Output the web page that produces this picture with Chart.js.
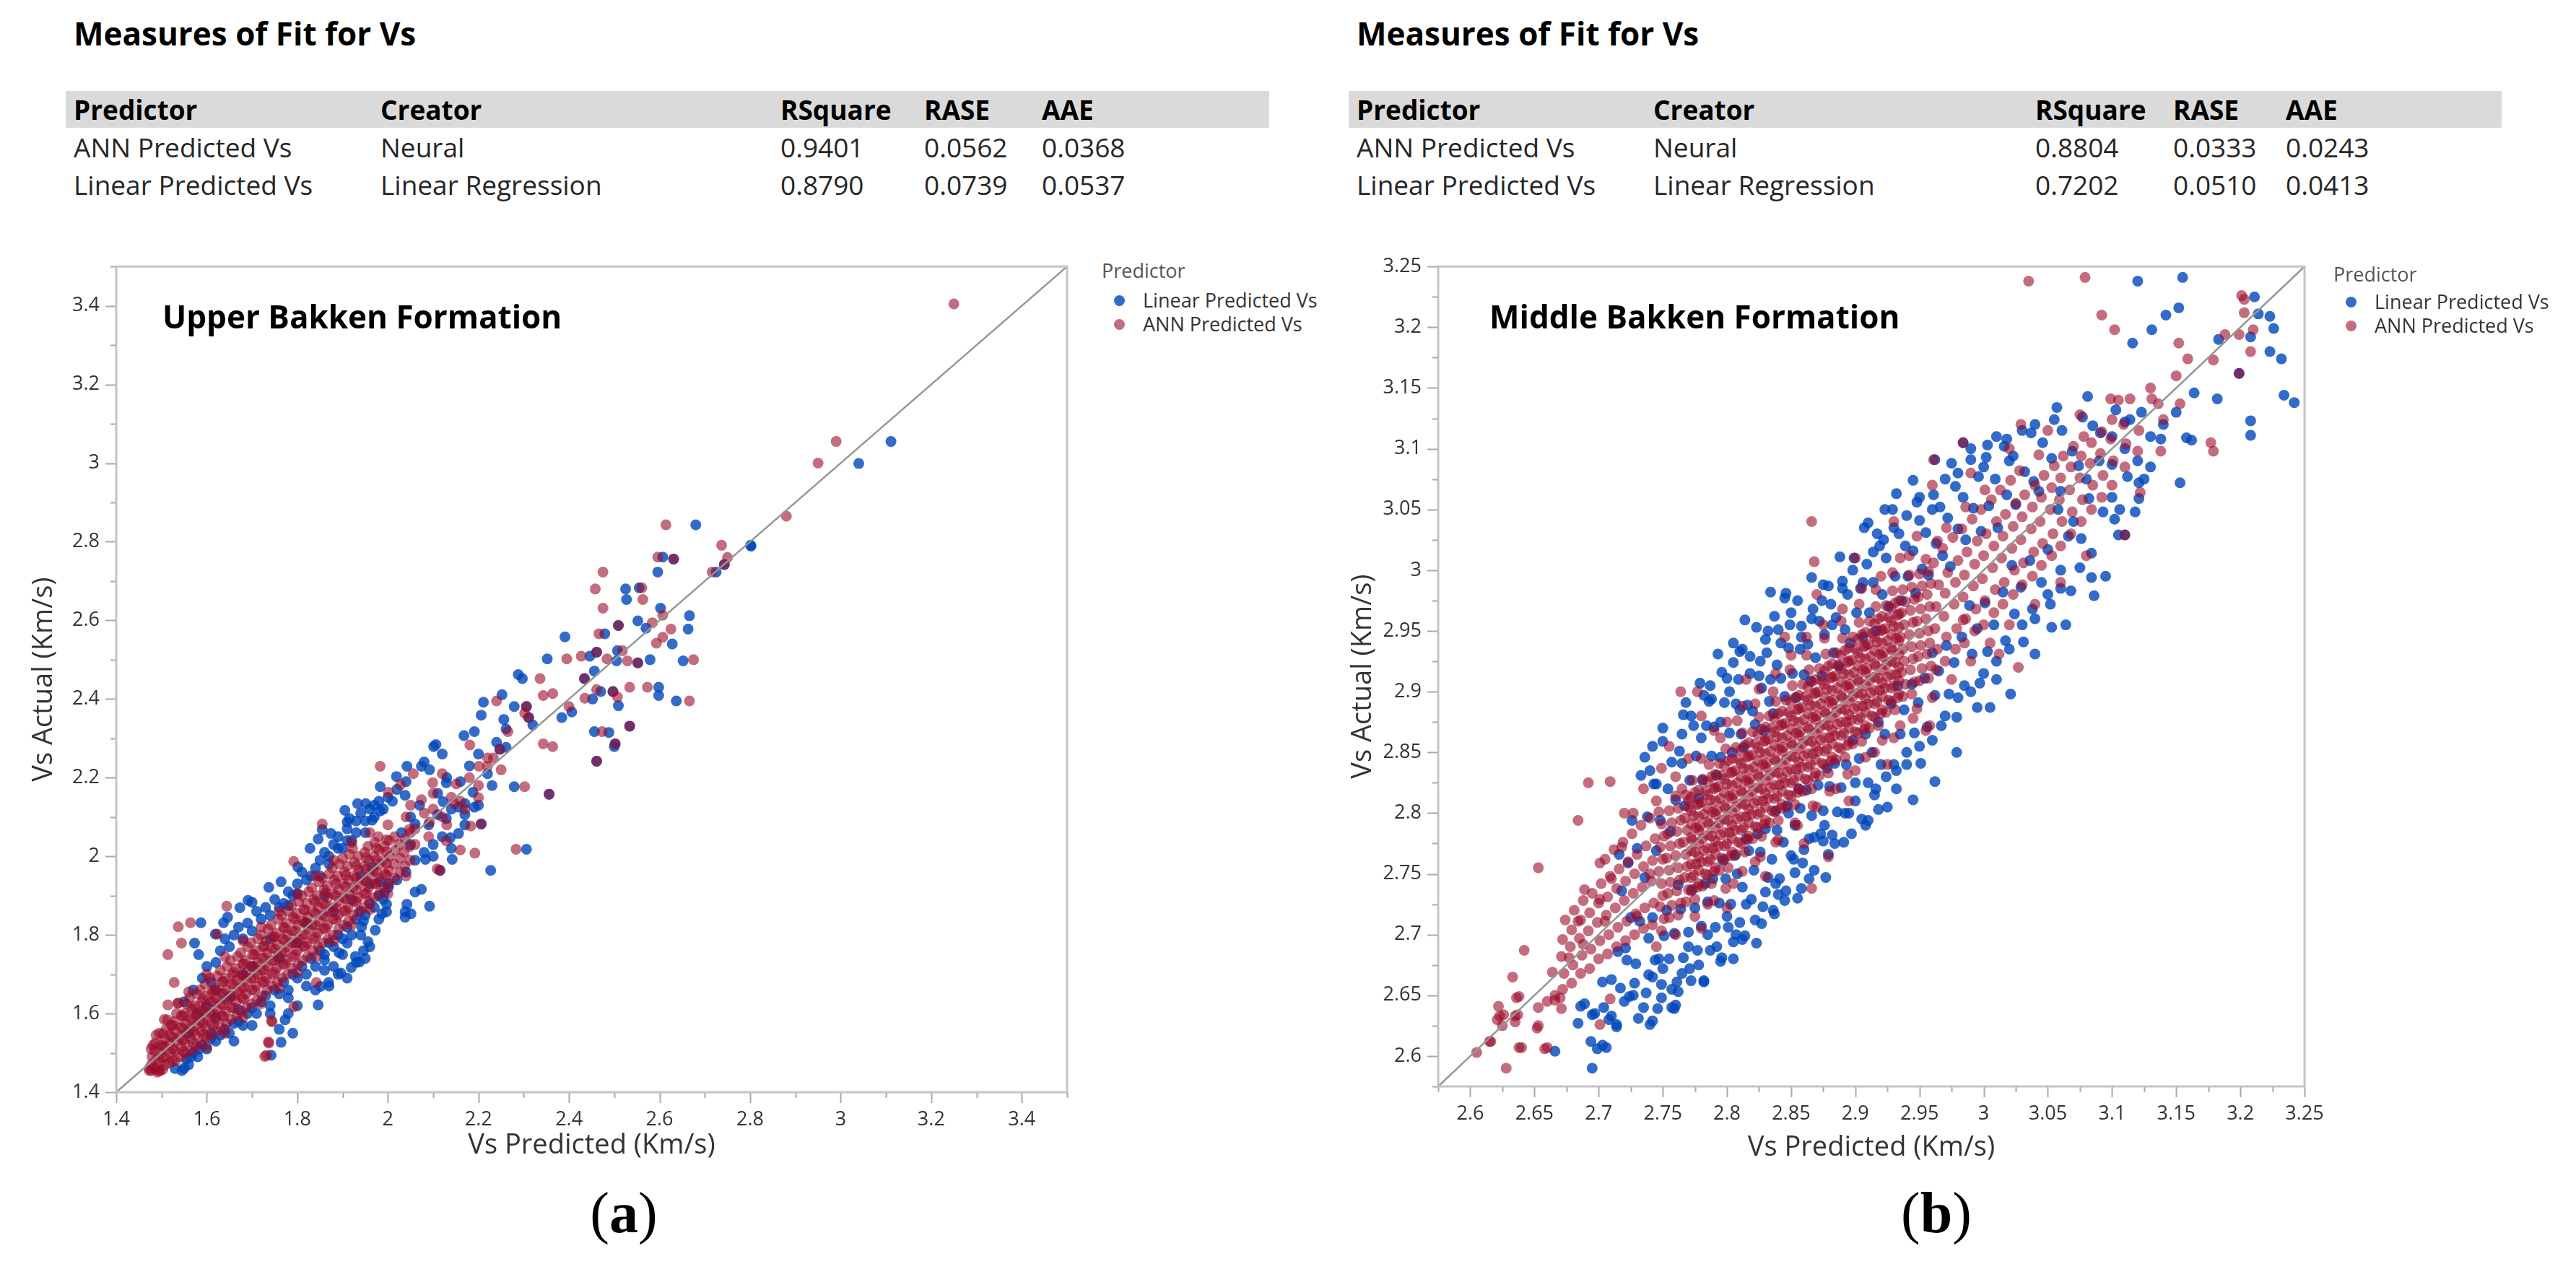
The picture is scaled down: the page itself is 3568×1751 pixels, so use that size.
<!DOCTYPE html>
<html>
<head>
<meta charset="utf-8">
<title>Measures of Fit for Vs</title>
<script src="https://cdn.jsdelivr.net/npm/chart.js@4.4.1/dist/chart.umd.min.js"></script>
<style>
  html, body { margin: 0; padding: 0; background: #fff; }
  body { width: 3568px; height: 1751px; position: relative; overflow: hidden; font-family: "Open Sans", sans-serif; color: #262626; }
  .abs { position: absolute; white-space: nowrap; line-height: 1; }
  .fitTitle { font-size: 44px; font-weight: 700; color: #000; }
  .bar { position: absolute; background: #dadada; top: 126px; height: 51px; }
  .hd { font-size: 37px; font-weight: 700; color: #000; }
  .cell { font-size: 37px; color: #262626; }
  .note { font-size: 44px; font-weight: 700; color: #000; }
  .legTitle { font-size: 27px; color: #555; }
  .legItem { font-size: 27px; color: #333; }
  .dot { position: absolute; width: 15px; height: 15px; border-radius: 50%; }
  .tag { font-family: "Liberation Serif", "DejaVu Serif", serif; font-size: 80px; width: 240px; text-align: center; color: #000; }
  canvas { position: absolute; }
</style>
</head>
<body>
<script>
// ---- values ----
const tableHeader = ['Predictor', 'Creator', 'RSquare', 'RASE', 'AAE'];
const upperFit = [
  ['ANN Predicted Vs', 'Neural', '0.9401', '0.0562', '0.0368'],
  ['Linear Predicted Vs', 'Linear Regression', '0.8790', '0.0739', '0.0537']
];
const middleFit = [
  ['ANN Predicted Vs', 'Neural', '0.8804', '0.0333', '0.0243'],
  ['Linear Predicted Vs', 'Linear Regression', '0.7202', '0.0510', '0.0413']
];
const seriesNames = ['Linear Predicted Vs', 'ANN Predicted Vs'];
const upperMajorTicks = [1.4, 1.6, 1.8, 2, 2.2, 2.4, 2.6, 2.8, 3, 3.2, 3.4];
const middleMajorTicks = [2.6, 2.65, 2.7, 2.75, 2.8, 2.85, 2.9, 2.95, 3, 3.05, 3.1, 3.15, 3.2, 3.25];

// Upper Bakken, Linear predicted vs actual  [x, y, x, y, ...]
const upperLinear = [
  3.111,3.055, 3.04,2.999, 2.802,2.789, 2.68,2.843, 2.725,2.723, 2.743,2.742, 2.801,2.791, 2.607,2.761, 2.631,2.756, 2.596,2.723,
  2.525,2.68, 2.555,2.683, 2.527,2.653, 2.602,2.631, 2.666,2.612, 2.663,2.578, 2.552,2.599, 2.57,2.58, 2.628,2.54, 2.509,2.587,
  2.479,2.566, 2.391,2.558, 2.352,2.502, 2.446,2.509, 2.461,2.519, 2.505,2.497, 2.552,2.492, 2.579,2.5, 2.652,2.497, 2.507,2.523,
  2.637,2.395, 2.598,2.43, 2.598,2.409, 2.497,2.419, 2.47,2.419, 2.452,2.4, 2.509,2.383, 2.434,2.452, 2.456,2.471, 2.456,2.317,
  2.488,2.315, 2.502,2.286, 2.5,2.279, 2.534,2.331, 2.461,2.242, 2.384,2.353, 2.406,2.367, 2.32,2.334, 2.311,2.353, 2.279,2.381,
  2.297,2.452, 2.288,2.462, 2.306,2.381, 2.256,2.348, 2.261,2.324, 2.252,2.411, 2.211,2.392, 2.191,2.317, 2.168,2.307, 2.206,2.359,
  2.261,2.277, 2.247,2.272, 2.279,2.177, 2.356,2.158, 2.306,2.018, 2.227,1.964, 2.206,2.082, 2.142,1.992, 2.188,2.163, 2.17,2.134,
  2.156,2.125, 2.122,2.139, 2.101,2.279, 2.106,2.284, 2.129,2.187, 2.074,2.229, 2.092,2.22, 2.042,2.229, 2.019,2.203, 1.983,2.177,
  2.038,2.155, 2.11,2.106, 2.129,2.096, 2.06,2.082, 2.191,2.125, 2.17,2.106, 2.156,2.058, 2.138,2.047, 2.115,1.964, 2.083,1.992,
  2.074,1.916, 2.06,1.909, 2.042,1.878, 2.038,1.859, 2.051,1.854, 2.092,1.873, 2.038,1.845, 1.997,1.878, 1.997,1.859, 1.987,1.854,
  1.946,1.835, 1.942,1.821, 1.972,1.812, 1.828,2.02, 1.846,2.044, 1.905,2.117, 1.915,2.096, 1.933,2.134, 1.951,2.134, 1.983,2.115,
  1.965,2.092, 1.91,2.087, 1.874,2.058, 1.855,2.068, 1.737,1.921, 1.764,1.935, 1.801,1.973, 1.691,1.888, 1.7,1.883, 1.673,1.869,
  1.637,1.831, 1.646,1.845, 1.619,1.802, 1.587,1.831, 1.582,1.75, 1.573,1.779, 1.55,1.461, 1.555,1.484, 1.582,1.508, 1.609,1.537,
  1.764,1.527, 1.742,1.494, 1.773,1.584, 1.846,1.622, 1.851,1.669, 1.869,1.679, 1.896,1.703, 1.919,1.717, 1.937,1.731, 1.928,1.745,
  1.946,1.76, 1.956,1.783, 1.91,1.779, 1.892,1.755, 1.86,1.736, 1.992,1.907, 2.001,1.921, 1.983,1.935, 1.96,1.93, 1.965,1.973,
  1.53,1.46, 1.545,1.455, 1.56,1.47, 1.565,1.49, 1.57,1.5, 1.58,1.49, 1.59,1.52, 1.6,1.51, 1.61,1.55, 1.62,1.53,
  1.63,1.545, 1.64,1.56, 1.65,1.55, 1.66,1.575, 1.67,1.58, 1.68,1.57, 1.69,1.6, 1.7,1.615, 1.71,1.6, 1.72,1.63,
  1.73,1.645, 1.74,1.62, 1.75,1.66, 1.76,1.65, 1.77,1.68, 1.78,1.66, 1.79,1.7, 1.8,1.69, 1.81,1.72, 1.82,1.7,
  1.83,1.74, 1.84,1.72, 1.85,1.76, 1.86,1.75, 1.87,1.78, 1.88,1.77, 1.89,1.8, 1.9,1.79, 1.91,1.82, 1.92,1.8,
  1.93,1.84, 1.94,1.86, 1.95,1.85, 1.96,1.88, 1.97,1.87, 1.98,1.9, 1.99,1.89, 2,1.93, 2.02,1.94, 2.04,1.96,
  2.06,1.99, 2.08,2.01, 2.1,2.03, 2.12,2.05, 1.66,1.53, 1.7,1.57, 1.74,1.6, 1.78,1.64, 1.82,1.67, 1.86,1.71,
  1.9,1.75, 1.94,1.8, 1.98,1.84, 1.87,1.67, 1.89,1.7, 1.91,1.69, 1.93,1.73, 1.95,1.74, 1.96,1.77, 1.88,1.72,
  1.84,1.66, 1.8,1.62, 1.78,1.6, 1.76,1.56, 1.79,1.55, 1.55,1.63, 1.57,1.66, 1.59,1.69, 1.6,1.72, 1.62,1.73,
  1.63,1.76, 1.65,1.77, 1.66,1.8, 1.68,1.79, 1.69,1.83, 1.7,1.81, 1.72,1.84, 1.73,1.87, 1.74,1.85, 1.75,1.89,
  1.77,1.88, 1.78,1.91, 1.79,1.9, 1.8,1.93, 1.81,1.96, 1.82,1.94, 1.84,1.97, 1.85,1.99, 1.86,2.01, 1.87,1.98,
  1.88,2.03, 1.89,2.05, 1.9,2.02, 1.91,2.07, 1.92,2.04, 1.93,2.09, 1.94,2.11, 1.95,2.06, 1.96,2.12, 1.97,2.1,
  1.98,2.14, 2,2.15, 2.02,2.17, 2.04,2.19, 1.6,1.62, 1.65,1.64, 1.7,1.72, 1.76,1.74, 1.82,1.83, 1.88,1.86,
  1.94,1.95, 1.68,1.7, 1.74,1.79, 1.8,1.78, 1.86,1.9, 1.92,1.89, 1.56,1.55, 1.62,1.66, 2.05,2.1, 2.07,2.13,
  2.09,2.08, 2.11,2.16, 2.13,2.2, 2.14,2.12, 2.16,2.19, 2.18,2.23, 2.2,2.26, 2.22,2.21, 2.24,2.29, 2.08,2.24,
  2.12,2.26, 2.03,2.06, 2.05,2.03, 2.1,2, 2.14,2.02, 2.17,2.08, 2.2,2.13, 2.23,2.18,
  1.76,1.87, 1.78,1.875, 1.8,1.905, 1.83,1.95, 1.85,1.95, 1.87,2.0, 1.89,2.02, 1.91,2.04, 1.93,2.06, 1.95,2.09,
  1.97,2.13, 1.99,2.12, 2.01,2.14, 1.64,1.79, 1.67,1.82, 1.71,1.86, 1.61,1.68, 1.58,1.6, 1.62,1.59, 1.67,1.61
];

// Upper Bakken, ANN predicted vs actual
const upperAnn = [
  3.25,3.405, 2.95,3, 2.99,3.055, 2.88,2.865, 2.737,2.791, 2.614,2.843, 2.716,2.723, 2.743,2.742, 2.75,2.76, 2.596,2.761,
  2.631,2.756, 2.475,2.723, 2.458,2.68, 2.475,2.631, 2.561,2.683, 2.563,2.653, 2.607,2.613, 2.584,2.594, 2.625,2.578, 2.593,2.542,
  2.607,2.557, 2.509,2.587, 2.466,2.566, 2.395,2.502, 2.427,2.509, 2.461,2.519, 2.484,2.502, 2.529,2.497, 2.552,2.492, 2.675,2.5,
  2.518,2.523, 2.666,2.395, 2.573,2.43, 2.534,2.43, 2.497,2.419, 2.461,2.424, 2.435,2.402, 2.507,2.405, 2.434,2.452, 2.473,2.317,
  2.502,2.286, 2.534,2.331, 2.461,2.242, 2.336,2.452, 2.343,2.409, 2.364,2.414, 2.4,2.381, 2.364,2.279, 2.343,2.286, 2.311,2.353,
  2.302,2.364, 2.306,2.381, 2.265,2.317, 2.24,2.395, 2.181,2.283, 2.247,2.272, 2.233,2.25, 2.22,2.229, 2.201,2.229, 2.302,2.177,
  2.356,2.158, 2.283,2.018, 2.192,2.008, 2.206,2.082, 2.183,2.077, 2.16,2.016, 2.2,2.149, 2.147,2.134, 2.12,2.21, 2.151,2.184,
  2.099,2.187, 2.056,2.21, 2.028,2.182, 1.983,2.229, 2.001,2.163, 2.074,2.144, 2.092,2.087, 2.047,2.068, 2.129,2.039, 2.109,1.968,
  2.115,1.964, 1.537,1.821, 1.564,1.831, 1.544,1.779, 1.514,1.75, 1.528,1.679, 1.514,1.622, 1.537,1.627, 1.623,1.802, 1.644,1.873,
  1.792,1.987, 1.855,2.082, 1.473,1.461, 1.491,1.451, 1.737,1.525, 1.732,1.494, 1.744,1.579, 1.792,1.617, 1.842,1.679, 1.536,1.626,
  1.513,1.584, 1.481,1.519, 1.736,1.528, 1.728,1.491, 1.743,1.582, 1.473,1.455, 1.494,1.455,
  1.478,1.455, 1.478,1.47, 1.479,1.49, 1.477,1.51, 1.486,1.46, 1.487,1.48, 1.485,1.505, 1.486,1.525, 1.488,1.545,
  1.497,1.455, 1.496,1.475, 1.498,1.5, 1.497,1.52, 1.495,1.55, 1.508,1.47, 1.509,1.49, 1.507,1.515, 1.508,1.535, 1.51,1.56, 1.506,1.585,
  1.519,1.475, 1.52,1.5, 1.518,1.525, 1.519,1.545, 1.521,1.57, 1.531,1.48, 1.53,1.505, 1.532,1.53, 1.531,1.555, 1.529,1.58, 1.533,1.6,
  1.542,1.49, 1.543,1.515, 1.541,1.54, 1.542,1.565, 1.544,1.595, 1.553,1.5, 1.552,1.525, 1.554,1.55, 1.553,1.575, 1.551,1.6, 1.555,1.625,
  1.564,1.505, 1.565,1.535, 1.563,1.56, 1.564,1.585, 1.566,1.61, 1.562,1.64, 1.576,1.515, 1.575,1.545, 1.577,1.57, 1.576,1.595, 1.574,1.62, 1.578,1.65,
  1.587,1.525, 1.588,1.555, 1.586,1.58, 1.587,1.605, 1.589,1.63, 1.585,1.66, 1.598,1.54, 1.597,1.565, 1.599,1.59, 1.598,1.615, 1.6,1.645, 1.596,1.675,
  1.609,1.545, 1.61,1.575, 1.608,1.6, 1.609,1.63, 1.611,1.655, 1.607,1.69, 1.621,1.555, 1.62,1.585, 1.622,1.61, 1.621,1.64, 1.619,1.665, 1.623,1.695,
  1.632,1.565, 1.633,1.595, 1.631,1.625, 1.632,1.65, 1.634,1.68, 1.63,1.71, 1.643,1.575, 1.642,1.605, 1.644,1.635, 1.643,1.66, 1.641,1.69, 1.645,1.72,
  1.654,1.585, 1.655,1.615, 1.653,1.645, 1.654,1.675, 1.656,1.7, 1.652,1.735, 1.666,1.595, 1.665,1.63, 1.667,1.655, 1.666,1.685, 1.664,1.715, 1.668,1.745,
  1.677,1.605, 1.678,1.64, 1.676,1.665, 1.677,1.695, 1.679,1.725, 1.675,1.755, 1.688,1.615, 1.687,1.65, 1.689,1.68, 1.688,1.705, 1.686,1.735, 1.69,1.77,
  1.699,1.625, 1.7,1.66, 1.698,1.69, 1.699,1.72, 1.701,1.75, 1.697,1.78, 1.711,1.635, 1.71,1.67, 1.712,1.7, 1.711,1.73, 1.709,1.76, 1.713,1.79,
  1.722,1.645, 1.723,1.68, 1.721,1.71, 1.722,1.74, 1.724,1.77, 1.72,1.8, 1.733,1.66, 1.732,1.69, 1.734,1.72, 1.733,1.755, 1.731,1.785, 1.735,1.815,
  1.744,1.67, 1.745,1.7, 1.743,1.735, 1.744,1.765, 1.746,1.795, 1.742,1.825, 1.756,1.68, 1.755,1.715, 1.757,1.745, 1.756,1.775, 1.754,1.805, 1.758,1.84,
  1.767,1.69, 1.768,1.725, 1.766,1.755, 1.767,1.79, 1.769,1.82, 1.765,1.85, 1.778,1.7, 1.777,1.735, 1.779,1.77, 1.778,1.8, 1.776,1.83, 1.78,1.86,
  1.789,1.715, 1.79,1.745, 1.788,1.78, 1.789,1.81, 1.791,1.845, 1.787,1.875, 1.801,1.725, 1.8,1.76, 1.802,1.79, 1.801,1.825, 1.799,1.855, 1.803,1.885,
  1.812,1.735, 1.813,1.77, 1.811,1.8, 1.812,1.835, 1.814,1.865, 1.81,1.9, 1.823,1.745, 1.822,1.78, 1.824,1.815, 1.823,1.845, 1.821,1.88, 1.825,1.91,
  1.834,1.76, 1.835,1.79, 1.833,1.825, 1.834,1.86, 1.836,1.89, 1.832,1.92, 1.846,1.77, 1.845,1.805, 1.847,1.835, 1.846,1.87, 1.844,1.9, 1.848,1.935,
  1.857,1.78, 1.858,1.815, 1.856,1.85, 1.857,1.88, 1.859,1.915, 1.855,1.945, 1.868,1.79, 1.867,1.825, 1.869,1.86, 1.868,1.895, 1.866,1.925, 1.87,1.955,
  1.879,1.8, 1.88,1.84, 1.878,1.87, 1.879,1.905, 1.881,1.94, 1.877,1.97, 1.891,1.815, 1.89,1.85, 1.892,1.885, 1.891,1.915, 1.889,1.95, 1.893,1.98,
  1.902,1.825, 1.903,1.86, 1.901,1.895, 1.902,1.93, 1.904,1.96, 1.9,1.995, 1.913,1.835, 1.912,1.87, 1.914,1.905, 1.913,1.94, 1.911,1.975, 1.915,2.005,
  1.924,1.85, 1.925,1.885, 1.923,1.92, 1.924,1.95, 1.926,1.985, 1.922,2.02, 1.936,1.86, 1.935,1.895, 1.937,1.93, 1.936,1.965, 1.934,2,
  1.947,1.87, 1.948,1.905, 1.946,1.94, 1.947,1.975, 1.949,2.01, 1.958,1.885, 1.957,1.92, 1.959,1.955, 1.958,1.99, 1.956,2.025,
  1.969,1.895, 1.97,1.93, 1.968,1.965, 1.969,2, 1.971,2.035, 1.981,1.905, 1.98,1.945, 1.982,1.98, 1.981,2.015, 1.979,2.05,
  1.992,1.92, 1.993,1.955, 1.991,1.99, 1.992,2.025, 2.003,1.93, 2.002,1.965, 2.004,2, 2.003,2.04, 2.015,1.945, 2.014,1.98, 2.016,2.015, 2.015,2.05,
  2.026,1.96, 2.027,1.995, 2.025,2.03, 2.037,1.975, 2.036,2.01, 2.038,2.045, 2.049,1.99, 2.048,2.025, 2.05,2.06,
  1.56,1.655, 1.6,1.7, 1.64,1.745, 1.68,1.785, 1.72,1.82, 1.76,1.86, 1.8,1.905, 1.84,1.95, 1.88,1.99, 1.92,2.035,
  1.96,2.06, 2,2.08, 2.04,2.1, 1.6,1.515, 1.64,1.55, 1.68,1.59, 1.72,1.625, 1.76,1.665, 1.8,1.705, 1.84,1.745,
  1.88,1.785, 1.92,1.825, 1.96,1.865, 2,1.905, 2.04,1.95, 2.06,2.07, 2.08,2.11, 2.1,2.12, 2.12,2.1, 2.14,2.15,
  2.16,2.14, 2.18,2.2, 2.2,2.18, 2.22,2.25, 2.25,2.22, 2.06,2.03, 2.09,2.05, 2.13,2.08, 2.17,2.12, 2.05,2.13, 2.1,2.16,
  1.503,1.458, 1.503,1.488, 1.503,1.518, 1.503,1.548, 1.525,1.48, 1.525,1.51, 1.525,1.54, 1.525,1.57,
  1.548,1.503, 1.548,1.533, 1.548,1.563, 1.548,1.593, 1.57,1.525, 1.57,1.555, 1.57,1.585, 1.57,1.615,
  1.592,1.547, 1.592,1.577, 1.592,1.607, 1.592,1.637, 1.615,1.57, 1.615,1.6, 1.615,1.63, 1.615,1.66,
  1.637,1.592, 1.637,1.622, 1.637,1.652, 1.637,1.682, 1.66,1.615, 1.66,1.645, 1.66,1.675, 1.66,1.705,
  1.682,1.637, 1.682,1.667, 1.682,1.697, 1.682,1.727, 1.705,1.66, 1.705,1.69, 1.705,1.72, 1.705,1.75,
  1.727,1.682, 1.727,1.712, 1.727,1.742, 1.727,1.772, 1.75,1.705, 1.75,1.735, 1.75,1.765, 1.75,1.795,
  1.772,1.727, 1.772,1.757, 1.772,1.787, 1.772,1.817, 1.795,1.75, 1.795,1.78, 1.795,1.81, 1.795,1.84,
  1.817,1.772, 1.817,1.802, 1.817,1.832, 1.817,1.862, 1.84,1.795, 1.84,1.825, 1.84,1.855, 1.84,1.885,
  1.862,1.817, 1.862,1.847, 1.862,1.877, 1.862,1.907, 1.885,1.84, 1.885,1.87, 1.885,1.9, 1.885,1.93,
  1.907,1.862, 1.907,1.892, 1.907,1.922, 1.907,1.952, 1.93,1.885, 1.93,1.915, 1.93,1.945, 1.93,1.975,
  1.952,1.907, 1.952,1.937, 1.952,1.967, 1.952,1.997, 1.975,1.93, 1.975,1.96, 1.975,1.99, 1.975,2.02,
  1.997,1.952, 1.997,1.982, 1.997,2.012, 1.997,2.042
];

// Middle Bakken, Linear predicted vs actual
const middleLinear = [
  3.12,3.238, 3.155,3.241, 3.211,3.225, 3.214,3.211, 3.223,3.209, 3.226,3.199, 3.142,3.21, 3.152,3.216, 3.131,3.198, 3.116,3.187,
  3.183,3.19, 3.208,3.192, 3.223,3.18, 3.232,3.174, 3.199,3.162, 3.234,3.144, 3.242,3.138, 3.208,3.123, 3.208,3.111, 3.182,3.141,
  3.164,3.146, 3.158,3.109, 3.162,3.107, 3.153,3.072, 3.121,3.072, 3.121,3.059, 3.118,3.048, 3.106,3.05, 3.114,3.124, 3.081,3.143,
  3.057,3.134, 3.055,3.124, 3.04,3.12,
  2.666,2.604, 2.695,2.59, 2.703,2.609, 2.684,2.627, 2.697,2.635, 2.71,2.633, 2.714,2.624, 2.689,2.643, 2.703,2.661, 2.71,2.663,
  2.727,2.65, 2.742,2.629, 2.749,2.648, 2.76,2.642, 2.762,2.653, 2.739,2.667, 2.747,2.68, 2.721,2.689, 2.771,2.672, 2.782,2.661,
  2.795,2.678, 2.805,2.694, 2.812,2.696, 2.827,2.709, 2.836,2.72, 2.84,2.733, 2.853,2.751, 2.858,2.738, 2.864,2.746, 2.879,2.766,
  2.875,2.777, 2.897,2.783, 2.91,2.794, 2.918,2.803, 2.932,2.82, 2.945,2.811, 2.962,2.826, 2.979,2.85, 2.995,2.887, 3.005,2.887,
  3.021,2.898, 3.04,2.931, 3.053,2.953, 3.064,2.955, 3.086,2.979, 3.105,3.029, 3.11,3.029, 3.084,2.994, 3.075,3.002,
  2.686,2.641, 2.695,2.634, 2.704,2.64, 2.708,2.63, 2.74,2.626, 2.759,2.639, 2.694,2.612, 2.699,2.606, 2.706,2.607,
  2.845,2.977, 2.832,2.95, 2.81,2.933, 2.805,2.924, 2.788,2.894, 2.766,2.881, 2.742,2.855, 2.736,2.846, 2.745,2.824, 3.018,3.108,
  3.003,3.103, 2.984,3.105, 2.962,3.091, 2.945,3.074, 2.932,3.063, 2.923,3.05, 2.91,3.039,
  2.714,2.626, 2.717,2.656, 2.715,2.686, 2.718,2.736, 2.716,2.766, 2.724,2.649, 2.722,2.679, 2.725,2.714, 2.723,2.759, 2.726,2.794,
  2.731,2.631, 2.729,2.676, 2.732,2.711, 2.73,2.771, 2.733,2.831, 2.737,2.652, 2.739,2.697, 2.736,2.747, 2.738,2.797,
  2.744,2.679, 2.742,2.714, 2.745,2.769, 2.743,2.824, 2.746,2.639, 2.749,2.659, 2.751,2.699, 2.748,2.794, 2.75,2.859,
  2.755,2.68, 2.753,2.72, 2.756,2.785, 2.754,2.82, 2.757,2.64, 2.761,2.661, 2.759,2.701, 2.762,2.741, 2.76,2.811, 2.763,2.851,
  2.766,2.681, 2.764,2.721, 2.767,2.806, 2.765,2.841, 2.768,2.891, 2.772,2.662, 2.77,2.702, 2.773,2.737, 2.771,2.827, 2.774,2.872,
  2.777,2.687, 2.775,2.722, 2.778,2.812, 2.776,2.847, 2.779,2.907, 2.782,2.662, 2.78,2.707, 2.783,2.742, 2.781,2.827, 2.784,2.872, 2.782,2.897,
  2.787,2.687, 2.785,2.727, 2.788,2.847, 2.786,2.892, 2.791,2.706, 2.789,2.746, 2.792,2.831, 2.79,2.871, 2.793,2.931,
  2.796,2.681, 2.794,2.726, 2.797,2.761, 2.795,2.846, 2.798,2.891, 2.796,2.916, 2.801,2.706, 2.799,2.746, 2.802,2.866, 2.8,2.911,
  2.805,2.68, 2.803,2.725, 2.806,2.765, 2.804,2.85, 2.807,2.89, 2.805,2.94, 2.81,2.71, 2.808,2.75, 2.811,2.865, 2.809,2.91, 2.812,2.935,
  2.814,2.699, 2.812,2.739, 2.815,2.779, 2.813,2.854, 2.816,2.889, 2.814,2.959, 2.819,2.729, 2.817,2.769, 2.82,2.884, 2.818,2.929,
  2.823,2.693, 2.821,2.753, 2.824,2.783, 2.822,2.873, 2.825,2.913, 2.823,2.953, 2.828,2.723, 2.826,2.768, 2.829,2.868, 2.827,2.903, 2.83,2.943,
  2.832,2.747, 2.83,2.787, 2.833,2.892, 2.831,2.932, 2.834,2.982, 2.837,2.717, 2.835,2.762, 2.838,2.802, 2.836,2.882, 2.839,2.922, 2.837,2.962,
  2.841,2.746, 2.839,2.786, 2.842,2.911, 2.84,2.951, 2.846,2.736, 2.844,2.776, 2.847,2.806, 2.845,2.896, 2.848,2.936, 2.846,2.981,
  2.85,2.765, 2.848,2.8, 2.851,2.915, 2.849,2.955, 2.855,2.73, 2.853,2.79, 2.856,2.82, 2.854,2.895, 2.857,2.935, 2.855,2.975,
  2.859,2.759, 2.857,2.804, 2.86,2.914, 2.858,2.954, 2.864,2.779, 2.862,2.819, 2.865,2.909, 2.863,2.939, 2.866,2.994,
  2.868,2.753, 2.866,2.798, 2.869,2.928, 2.867,2.968, 2.873,2.783, 2.871,2.823, 2.874,2.913, 2.872,2.958, 2.875,2.988,
  2.877,2.747, 2.875,2.802, 2.878,2.837, 2.876,2.947, 2.879,2.987, 2.882,2.782, 2.88,2.822, 2.883,2.932, 2.881,2.972,
  2.886,2.801, 2.884,2.841, 2.887,2.921, 2.885,2.961, 2.888,3.011, 2.891,2.776, 2.889,2.821, 2.892,2.951, 2.89,2.991,
  2.895,2.8, 2.893,2.84, 2.896,2.94, 2.894,2.98, 2.9,2.825, 2.898,2.86, 2.901,2.965, 2.899,3.01,
  2.905,2.795, 2.903,2.845, 2.906,2.945, 2.904,2.985, 2.907,3.035, 2.91,2.825, 2.908,2.865, 2.911,2.965, 2.909,3.005,
  2.915,2.815, 2.913,2.85, 2.916,2.95, 2.914,2.99, 2.917,3.03, 2.92,2.84, 2.918,2.875, 2.921,2.98, 2.919,3.02,
  2.925,2.805, 2.923,2.865, 2.926,2.97, 2.924,3.01, 2.93,2.84, 2.928,2.89, 2.931,2.995, 2.929,3.05,
  2.935,2.865, 2.933,2.905, 2.936,2.975, 2.934,3.03, 2.94,2.84, 2.938,2.885, 2.941,2.995, 2.939,3.02,
  2.946,2.866, 2.944,2.906, 2.947,2.981, 2.945,3.016, 2.948,3.056, 2.951,2.841, 2.949,2.891, 2.952,3.001, 2.95,3.041,
  2.956,2.871, 2.954,2.911, 2.957,2.996, 2.955,3.031, 2.962,2.897, 2.96,2.932, 2.963,3.022, 2.961,3.062,
  2.967,2.872, 2.965,2.917, 2.968,3.012, 2.966,3.052, 2.973,2.898, 2.971,2.938, 2.974,3.003, 2.972,3.043, 2.975,3.088,
  2.979,2.879, 2.977,2.924, 2.98,3.034, 2.978,3.069, 2.985,2.905, 2.983,2.945, 2.986,3.025, 2.984,3.06,
  2.991,2.931, 2.989,2.971, 2.992,3.051, 2.99,3.091, 2.997,2.907, 2.995,2.952, 2.998,3.032, 2.996,3.077,
  3.003,2.933, 3.001,2.973, 3.004,3.053, 3.002,3.093, 3.01,2.91, 3.008,2.955, 3.011,3.035, 3.009,3.075,
  3.017,2.942, 3.015,2.982, 3.018,3.062, 3.016,3.102, 3.024,2.964, 3.022,3.004, 3.025,3.054, 3.023,3.094,
  3.031,2.941, 3.029,2.986, 3.032,3.081, 3.038,2.968, 3.036,3.008, 3.039,3.073, 3.037,3.113,
  3.045,2.99, 3.043,3.065, 3.046,3.105, 3.052,2.972, 3.05,3.017, 3.053,3.092, 3.06,3, 3.058,3.05, 3.061,3.115,
  3.068,2.983, 3.066,3.028, 3.069,3.098, 3.076,3.026, 3.074,3.086, 3.077,3.126, 3.084,3.014, 3.082,3.059, 3.085,3.119,
  3.093,3.048, 3.091,3.113, 3.102,3.042, 3.1,3.087, 3.103,3.132, 3.112,3.077, 3.11,3.122, 3.125,3.075, 3.123,3.13,
  3.138,3.108, 3.095,2.995,
  2.72,2.645, 2.728,2.66, 2.735,2.64, 2.742,2.665, 2.75,2.672, 2.757,2.655, 2.765,2.668, 2.77,2.69, 2.778,2.675, 2.785,2.7,
  2.792,2.69, 2.8,2.715, 2.807,2.7, 2.815,2.725, 2.822,2.712, 2.83,2.735, 2.838,2.742, 2.845,2.728, 2.852,2.762, 2.86,2.77,
  2.868,2.78, 2.876,2.79, 2.884,2.775, 2.892,2.8, 2.9,2.81, 2.908,2.79, 2.916,2.82, 2.924,2.83, 2.932,2.835, 2.94,2.85,
  2.95,2.855, 2.96,2.86, 2.97,2.88, 2.98,2.895, 2.99,2.9, 3,2.915, 3.01,2.925, 3.02,2.935, 3.03,2.955, 3.04,2.96,
  3.05,2.98, 3.06,2.985, 2.74,2.835, 2.75,2.87, 2.757,2.842, 2.765,2.865, 2.772,2.88, 2.78,2.862, 2.787,2.905, 2.795,2.875,
  2.802,2.9, 2.81,2.885, 2.818,2.915, 2.826,2.925, 2.834,2.91, 2.842,2.94, 2.85,2.965, 2.858,2.945, 2.866,2.96, 2.874,2.975,
  2.882,2.955, 2.89,2.985, 2.898,3, 2.906,2.99, 2.914,3.015, 2.922,3.025, 2.93,3.035, 2.94,3.045, 2.95,3.06, 2.96,3.05,
  2.97,3.075, 2.98,3.08, 2.99,3.1, 3,3.085, 3.01,3.11, 3.02,3.09, 3.03,3.115, 3.06,3.065, 3.07,3.04, 3.08,3.075,
  3.09,3.09, 3.1,3.06, 3.11,3.1, 3.12,3.09, 3.13,3.11, 3.14,3.12, 3.15,3.13, 3.1,3.11, 3.13,3.085
];

// Middle Bakken, ANN predicted vs actual
const middleAnn = [
  2.605,2.603, 2.628,2.59, 2.616,2.612, 2.623,2.633, 2.638,2.649, 2.653,2.625, 2.66,2.607, 2.64,2.607, 2.633,2.665, 2.642,2.687,
  2.664,2.669, 2.666,2.65, 2.677,2.681, 2.688,2.692, 2.684,2.711, 2.689,2.737, 2.701,2.729, 2.705,2.711, 2.701,2.759, 2.71,2.746,
  2.718,2.772, 2.653,2.755, 2.684,2.794, 2.692,2.825, 2.709,2.826, 2.727,2.8, 2.749,2.837, 2.764,2.9, 2.777,2.9, 2.866,3.04,
  2.868,3.007, 2.961,3.091, 2.984,3.105, 3.029,3.12, 3.035,3.238, 3.079,3.241, 3.201,3.226, 3.203,3.223, 3.203,3.212, 3.21,3.198,
  3.092,3.21, 3.102,3.198, 3.152,3.187, 3.159,3.174, 3.188,3.194, 3.199,3.194, 3.179,3.173, 3.199,3.162, 3.208,3.18, 3.153,3.137,
  3.136,3.137, 3.14,3.124, 3.131,3.141, 3.177,3.105, 3.179,3.098, 3.138,3.098, 3.122,3.064, 3.099,3.141, 3.114,3.141, 3.11,3.029,
  3.027,2.92, 2.958,2.872, 2.879,2.764, 2.866,2.738, 3.012,2.931, 2.984,2.959,
  2.615,2.612, 2.638,2.607, 2.658,2.606, 2.652,2.623, 2.622,2.641, 2.626,2.634, 2.621,2.63, 2.625,2.625, 2.635,2.633, 2.635,2.628,
  2.637,2.634, 2.653,2.64, 2.66,2.645, 2.666,2.646, 2.671,2.639, 2.67,2.648, 2.701,2.626, 2.709,2.647, 2.636,2.648,
  2.672,2.655, 2.673,2.668, 2.671,2.682, 2.672,2.696, 2.674,2.712, 2.679,2.66, 2.68,2.675, 2.678,2.69, 2.679,2.704, 2.681,2.72,
  2.686,2.668, 2.687,2.683, 2.685,2.697, 2.686,2.712, 2.688,2.728, 2.693,2.672, 2.694,2.688, 2.692,2.703, 2.693,2.718, 2.695,2.734,
  2.7,2.68, 2.701,2.695, 2.699,2.71, 2.7,2.726, 2.702,2.742, 2.707,2.684, 2.708,2.7, 2.706,2.716, 2.707,2.731, 2.709,2.748, 2.705,2.762,
  2.714,2.69, 2.715,2.706, 2.713,2.722, 2.714,2.738, 2.716,2.754, 2.712,2.77, 2.721,2.695, 2.722,2.711, 2.72,2.728, 2.721,2.744, 2.723,2.76, 2.719,2.776,
  2.728,2.7, 2.729,2.717, 2.727,2.734, 2.728,2.75, 2.73,2.766, 2.726,2.783, 2.735,2.705, 2.736,2.722, 2.734,2.739, 2.735,2.756, 2.737,2.773, 2.733,2.79,
  2.742,2.708, 2.743,2.726, 2.741,2.744, 2.742,2.761, 2.744,2.779, 2.74,2.796,
  2.749,2.703, 2.751,2.713, 2.748,2.723, 2.75,2.732, 2.749,2.742, 2.747,2.752, 2.75,2.762, 2.748,2.772, 2.751,2.781, 2.749,2.791, 2.747,2.801,
  2.755,2.714, 2.757,2.724, 2.754,2.734, 2.756,2.743, 2.755,2.753, 2.753,2.763, 2.756,2.773, 2.754,2.783, 2.757,2.792, 2.755,2.802,
  2.762,2.716, 2.764,2.726, 2.761,2.736, 2.763,2.745, 2.762,2.755, 2.76,2.765, 2.763,2.775, 2.761,2.785, 2.764,2.794, 2.762,2.804, 2.76,2.814,
  2.768,2.727, 2.77,2.737, 2.767,2.747, 2.769,2.756, 2.768,2.766, 2.766,2.776, 2.769,2.786, 2.767,2.796, 2.77,2.805, 2.768,2.815,
  2.775,2.729, 2.777,2.739, 2.774,2.749, 2.776,2.758, 2.775,2.768, 2.773,2.778, 2.776,2.788, 2.774,2.798, 2.777,2.807, 2.775,2.817, 2.773,2.827,
  2.781,2.74, 2.783,2.75, 2.78,2.76, 2.782,2.769, 2.781,2.779, 2.779,2.789, 2.782,2.799, 2.78,2.809, 2.783,2.818, 2.781,2.828,
  2.788,2.742, 2.79,2.752, 2.787,2.762, 2.789,2.771, 2.788,2.781, 2.786,2.791, 2.789,2.801, 2.787,2.811, 2.79,2.82, 2.788,2.83, 2.786,2.84,
  2.794,2.753, 2.796,2.763, 2.793,2.773, 2.795,2.782, 2.794,2.792, 2.792,2.802, 2.795,2.812, 2.793,2.822, 2.796,2.831, 2.794,2.841,
  2.801,2.755, 2.803,2.765, 2.8,2.775, 2.802,2.784, 2.801,2.794, 2.799,2.804, 2.802,2.814, 2.8,2.824, 2.803,2.833, 2.801,2.843, 2.799,2.853,
  2.807,2.766, 2.809,2.776, 2.806,2.786, 2.808,2.795, 2.807,2.805, 2.805,2.815, 2.808,2.825, 2.806,2.835, 2.809,2.844, 2.807,2.854,
  2.814,2.768, 2.816,2.778, 2.813,2.788, 2.815,2.797, 2.814,2.807, 2.812,2.817, 2.815,2.827, 2.813,2.837, 2.816,2.846, 2.814,2.856, 2.812,2.866,
  2.82,2.779, 2.822,2.789, 2.819,2.799, 2.821,2.808, 2.82,2.818, 2.818,2.828, 2.821,2.838, 2.819,2.848, 2.822,2.857, 2.82,2.867,
  2.827,2.781, 2.829,2.791, 2.826,2.801, 2.828,2.81, 2.827,2.82, 2.825,2.83, 2.828,2.84, 2.826,2.85, 2.829,2.859, 2.827,2.869, 2.825,2.879,
  2.833,2.792, 2.835,2.802, 2.832,2.812, 2.834,2.821, 2.833,2.831, 2.831,2.841, 2.834,2.851, 2.832,2.861, 2.835,2.87, 2.833,2.88,
  2.84,2.794, 2.842,2.804, 2.839,2.814, 2.841,2.823, 2.84,2.833, 2.838,2.843, 2.841,2.853, 2.839,2.863, 2.842,2.872, 2.84,2.882, 2.838,2.892,
  2.846,2.805, 2.848,2.815, 2.845,2.825, 2.847,2.834, 2.846,2.844, 2.844,2.854, 2.847,2.864, 2.845,2.874, 2.848,2.883, 2.846,2.893,
  2.853,2.807, 2.855,2.817, 2.852,2.827, 2.854,2.836, 2.853,2.846, 2.851,2.856, 2.854,2.866, 2.852,2.876, 2.855,2.885, 2.853,2.895, 2.851,2.905,
  2.859,2.818, 2.861,2.828, 2.858,2.838, 2.86,2.847, 2.859,2.857, 2.857,2.867, 2.86,2.877, 2.858,2.887, 2.861,2.896, 2.859,2.906,
  2.866,2.82, 2.868,2.83, 2.865,2.84, 2.867,2.849, 2.866,2.859, 2.864,2.869, 2.867,2.879, 2.865,2.889, 2.868,2.898, 2.866,2.908, 2.864,2.918,
  2.872,2.831, 2.874,2.841, 2.871,2.851, 2.873,2.86, 2.872,2.87, 2.87,2.88, 2.873,2.89, 2.871,2.9, 2.874,2.909, 2.872,2.919,
  2.879,2.833, 2.881,2.843, 2.878,2.853, 2.88,2.862, 2.879,2.872, 2.877,2.882, 2.88,2.892, 2.878,2.902, 2.881,2.911, 2.879,2.921, 2.877,2.931,
  2.885,2.844, 2.887,2.854, 2.884,2.864, 2.886,2.873, 2.885,2.883, 2.883,2.893, 2.886,2.903, 2.884,2.913, 2.887,2.922, 2.885,2.932,
  2.892,2.846, 2.894,2.856, 2.891,2.866, 2.893,2.875, 2.892,2.885, 2.89,2.895, 2.893,2.905, 2.891,2.915, 2.894,2.924, 2.892,2.934, 2.89,2.944,
  2.898,2.857, 2.9,2.867, 2.897,2.877, 2.899,2.886, 2.898,2.896, 2.896,2.906, 2.899,2.916, 2.897,2.926, 2.9,2.935, 2.898,2.945,
  2.905,2.859, 2.907,2.869, 2.904,2.879, 2.906,2.888, 2.905,2.898, 2.903,2.908, 2.906,2.918, 2.904,2.928, 2.907,2.937, 2.905,2.947, 2.903,2.957,
  2.911,2.87, 2.913,2.88, 2.91,2.89, 2.912,2.899, 2.911,2.909, 2.909,2.919, 2.912,2.929, 2.91,2.939, 2.913,2.948, 2.911,2.958,
  2.918,2.872, 2.92,2.882, 2.917,2.892, 2.919,2.901, 2.918,2.911, 2.916,2.921, 2.919,2.931, 2.917,2.941, 2.92,2.95, 2.918,2.96, 2.916,2.97,
  2.924,2.883, 2.926,2.893, 2.923,2.903, 2.925,2.912, 2.924,2.922, 2.922,2.932, 2.925,2.942, 2.923,2.952, 2.926,2.961, 2.924,2.971,
  2.931,2.885, 2.933,2.895, 2.93,2.905, 2.932,2.914, 2.931,2.924, 2.929,2.934, 2.932,2.944, 2.93,2.954, 2.933,2.963, 2.931,2.973, 2.929,2.983,
  2.937,2.896, 2.939,2.906, 2.936,2.916, 2.938,2.925, 2.937,2.935, 2.935,2.945, 2.938,2.955, 2.936,2.965, 2.939,2.974, 2.937,2.984,
  2.944,2.898, 2.946,2.908, 2.943,2.918, 2.945,2.927, 2.944,2.937, 2.942,2.947, 2.945,2.957, 2.943,2.967, 2.946,2.976, 2.944,2.986, 2.942,2.996,
  2.95,2.909, 2.952,2.919, 2.949,2.929, 2.951,2.938, 2.95,2.948, 2.948,2.958, 2.951,2.968, 2.949,2.978, 2.952,2.987, 2.95,2.997,
  2.957,2.911, 2.959,2.921, 2.956,2.931, 2.958,2.94, 2.957,2.95, 2.955,2.96, 2.958,2.97, 2.956,2.98, 2.959,2.989, 2.957,2.999, 2.955,3.009,
  2.963,2.918, 2.964,2.935, 2.962,2.952, 2.963,2.97, 2.965,2.988, 2.961,3.006, 2.964,3.024, 2.97,2.925, 2.971,2.945, 2.969,2.962,
  2.97,2.981, 2.972,2.998, 2.968,3.018, 2.971,3.035, 2.978,2.935, 2.979,2.952, 2.977,2.972, 2.978,2.99, 2.98,3.008, 2.976,3.027,
  2.985,2.94, 2.986,2.96, 2.984,2.978, 2.985,2.996, 2.987,3.015, 2.983,3.034, 2.986,3.052, 2.993,2.95, 2.994,2.968, 2.992,2.987,
  2.993,3.005, 2.995,3.024, 2.991,3.042, 3,2.955, 3.001,2.975, 2.999,2.993, 3,3.012, 3.002,3.03, 2.998,3.05, 3.001,3.066,
  3.008,2.965, 3.009,2.984, 3.007,3.002, 3.008,3.02, 3.01,3.04, 3.006,3.058, 3.015,2.972, 3.016,2.99, 3.014,3.01, 3.015,3.028,
  3.017,3.046, 3.013,3.066, 3.023,2.98, 3.024,3, 3.022,3.018, 3.023,3.036, 3.025,3.055, 3.021,3.074, 3.03,2.988, 3.031,3.006,
  3.029,3.025, 3.03,3.044, 3.032,3.062, 3.028,3.082, 3.038,2.995, 3.039,3.015, 3.037,3.034, 3.038,3.052, 3.04,3.07,
  3.045,3.004, 3.046,3.022, 3.044,3.04, 3.045,3.06, 3.047,3.078, 3.043,3.095, 3.053,3.012, 3.054,3.03, 3.052,3.05, 3.053,3.068,
  3.055,3.086, 3.06,3.02, 3.061,3.04, 3.059,3.058, 3.06,3.076, 3.062,3.094, 3.068,3.03, 3.069,3.048, 3.067,3.066, 3.068,3.085,
  3.07,3.102, 3.076,3.04, 3.077,3.058, 3.075,3.076, 3.076,3.094, 3.078,3.11, 3.084,3.05, 3.085,3.07, 3.083,3.088, 3.084,3.105,
  3.092,3.06, 3.093,3.078, 3.091,3.096, 3.092,3.114, 3.1,3.07, 3.101,3.09, 3.099,3.108, 3.1,3.124, 3.11,3.085, 3.111,3.104,
  3.109,3.12, 3.12,3.098, 3.121,3.115,
  2.76,2.83, 2.77,2.845, 2.79,2.868, 2.8,2.875, 2.812,2.888, 2.825,2.902, 2.838,2.915, 2.85,2.93, 2.862,2.945, 2.875,2.955,
  2.89,2.968, 2.905,2.985, 2.92,2.995, 2.935,3.01, 2.948,3.028, 2.775,2.715, 2.79,2.728, 2.805,2.742, 2.822,2.76, 2.838,2.776,
  2.855,2.79, 2.87,2.805, 2.885,2.82, 2.9,2.835, 2.915,2.85, 2.93,2.862, 2.945,2.878, 2.96,2.895, 2.975,2.91, 2.99,2.925,
  3.005,2.94, 3.02,2.955, 3.04,2.972, 3.06,2.99, 3.08,3.012, 2.745,2.69, 2.76,2.7, 2.78,2.705, 2.8,2.722, 2.83,2.748,
  2.86,2.775, 2.895,2.81, 2.925,2.84, 2.955,2.868, 2.735,2.82, 2.755,2.855, 2.78,2.88, 2.815,2.91, 2.845,2.945, 2.87,2.98,
  2.9,3.01, 2.93,3.04, 2.96,3.07, 2.99,3.08, 3.02,3.1, 3.05,3.115, 3.075,3.128, 3.105,3.14, 3.13,3.15, 3.15,3.16,
  2.78,2.845, 2.795,2.862, 2.808,2.876, 2.822,2.89, 2.836,2.9, 2.849,2.918, 2.862,2.93, 2.876,2.944, 2.889,2.958, 2.903,2.972,
  2.916,2.984, 2.929,2.998, 2.942,3.012, 2.785,2.725, 2.799,2.738, 2.812,2.752, 2.826,2.764, 2.84,2.778, 2.853,2.792, 2.867,2.806,
  2.88,2.818, 2.894,2.832, 2.908,2.846, 2.921,2.86, 2.935,2.872, 2.948,2.886, 2.77,2.81, 2.74,2.75, 2.73,2.715, 2.72,2.8,
  2.745,2.81, 2.765,2.82,
  2.772,2.736, 2.772,2.747, 2.772,2.758, 2.772,2.769, 2.772,2.78, 2.772,2.791, 2.772,2.802, 2.772,2.813,
  2.778,2.742, 2.778,2.753, 2.778,2.764, 2.778,2.775, 2.778,2.786, 2.778,2.797, 2.778,2.808, 2.778,2.819,
  2.785,2.749, 2.785,2.76, 2.785,2.771, 2.785,2.782, 2.785,2.793, 2.785,2.804, 2.785,2.815, 2.785,2.826,
  2.791,2.755, 2.791,2.766, 2.791,2.777, 2.791,2.788, 2.791,2.799, 2.791,2.81, 2.791,2.821, 2.791,2.832,
  2.798,2.762, 2.798,2.773, 2.798,2.784, 2.798,2.795, 2.798,2.806, 2.798,2.817, 2.798,2.828, 2.798,2.839,
  2.804,2.768, 2.804,2.779, 2.804,2.79, 2.804,2.801, 2.804,2.812, 2.804,2.823, 2.804,2.834, 2.804,2.845,
  2.811,2.775, 2.811,2.786, 2.811,2.797, 2.811,2.808, 2.811,2.819, 2.811,2.83, 2.811,2.841, 2.811,2.852,
  2.817,2.781, 2.817,2.792, 2.817,2.803, 2.817,2.814, 2.817,2.825, 2.817,2.836, 2.817,2.847, 2.817,2.858,
  2.824,2.788, 2.824,2.799, 2.824,2.81, 2.824,2.821, 2.824,2.832, 2.824,2.843, 2.824,2.854, 2.824,2.865,
  2.83,2.794, 2.83,2.805, 2.83,2.816, 2.83,2.827, 2.83,2.838, 2.83,2.849, 2.83,2.86, 2.83,2.871,
  2.837,2.801, 2.837,2.812, 2.837,2.823, 2.837,2.834, 2.837,2.845, 2.837,2.856, 2.837,2.867, 2.837,2.878,
  2.843,2.807, 2.843,2.818, 2.843,2.829, 2.843,2.84, 2.843,2.851, 2.843,2.862, 2.843,2.873, 2.843,2.884,
  2.85,2.814, 2.85,2.825, 2.85,2.836, 2.85,2.847, 2.85,2.858, 2.85,2.869, 2.85,2.88, 2.85,2.891,
  2.856,2.82, 2.856,2.831, 2.856,2.842, 2.856,2.853, 2.856,2.864, 2.856,2.875, 2.856,2.886, 2.856,2.897,
  2.863,2.827, 2.863,2.838, 2.863,2.849, 2.863,2.86, 2.863,2.871, 2.863,2.882, 2.863,2.893, 2.863,2.904,
  2.869,2.833, 2.869,2.844, 2.869,2.855, 2.869,2.866, 2.869,2.877, 2.869,2.888, 2.869,2.899, 2.869,2.91,
  2.876,2.84, 2.876,2.851, 2.876,2.862, 2.876,2.873, 2.876,2.884, 2.876,2.895, 2.876,2.906, 2.876,2.917,
  2.882,2.846, 2.882,2.857, 2.882,2.868, 2.882,2.879, 2.882,2.89, 2.882,2.901, 2.882,2.912, 2.882,2.923,
  2.889,2.853, 2.889,2.864, 2.889,2.875, 2.889,2.886, 2.889,2.897, 2.889,2.908, 2.889,2.919, 2.889,2.93,
  2.895,2.859, 2.895,2.87, 2.895,2.881, 2.895,2.892, 2.895,2.903, 2.895,2.914, 2.895,2.925, 2.895,2.936,
  2.902,2.866, 2.902,2.877, 2.902,2.888, 2.902,2.899, 2.902,2.91, 2.902,2.921, 2.902,2.932, 2.902,2.943,
  2.908,2.872, 2.908,2.883, 2.908,2.894, 2.908,2.905, 2.908,2.916, 2.908,2.927, 2.908,2.938, 2.908,2.949,
  2.915,2.879, 2.915,2.89, 2.915,2.901, 2.915,2.912, 2.915,2.923, 2.915,2.934, 2.915,2.945, 2.915,2.956,
  2.921,2.885, 2.921,2.896, 2.921,2.907, 2.921,2.918, 2.921,2.929, 2.921,2.94, 2.921,2.951, 2.921,2.962,
  2.928,2.892, 2.928,2.903, 2.928,2.914, 2.928,2.925, 2.928,2.936, 2.928,2.947, 2.928,2.958, 2.928,2.969,
  2.934,2.898, 2.934,2.909, 2.934,2.92, 2.934,2.931, 2.934,2.942, 2.934,2.953, 2.934,2.964, 2.934,2.975
];

// ---- styling and layout ----
const LINEAR_COLOR = 'rgba(0, 70, 186, 0.8)';
const ANN_COLOR = 'rgba(155, 12, 42, 0.6)';
const DIAG_COLOR = '#969696';
const POINT_RADIUS = 7.5;
const FONT = '"Open Sans", sans-serif';

const panels = [
  {
    fit: upperFit, cols: [102, 527, 1081, 1280, 1443], bar: [91, 1758], titleX: 102,
    canvas: { left: 0, top: 330, w: 1500, h: 1330 },
    padTop: 33, padRight: 15, yAxisW: 161, xAxisH: 147, xTitlePad: 50, yTitlePad: 38,
    min: 1.4, max: 3.5, step: 0.1, majors: upperMajorTicks,
    linear: upperLinear, ann: upperAnn,
    note: 'Upper Bakken Formation', noteX: 225,
    legendX: 1526, legendY: [375, 416, 449], tag: 'a', tagX: 864
  },
  {
    fit: middleFit, cols: [1879, 2290, 2819, 3010, 3166], bar: [1868, 3465], titleX: 1879,
    canvas: { left: 1830, top: 330, w: 1500, h: 1330 },
    padTop: 38, padRight: 138, yAxisW: 162, xAxisH: 155, xTitlePad: 47, yTitlePad: 35,
    min: 2.575, max: 3.25, step: 0.025, majors: middleMajorTicks,
    linear: middleLinear, ann: middleAnn,
    note: 'Middle Bakken Formation', noteX: 2063,
    legendX: 3232, legendY: [380, 418, 451], tag: 'b', tagX: 2682
  }
];

function toPoints(flat) {
  const pts = [];
  for (let i = 0; i + 1 < flat.length; i += 2) pts.push({ x: flat[i], y: flat[i + 1] });
  return pts;
}

function addText(text, cls, left, top) {
  const el = document.createElement('div');
  el.className = 'abs ' + cls;
  el.textContent = text;
  el.style.left = left + 'px';
  el.style.top = top + 'px';
  document.body.appendChild(el);
  return el;
}

// frame round the plot area plus major/minor tick marks
const framePlugin = {
  id: 'frame',
  afterDatasetsDraw(chart) {
    const { ctx, chartArea: a, scales } = chart;
    ctx.save();
    ctx.strokeStyle = '#c4c4c4';
    ctx.lineWidth = 3;
    ctx.strokeRect(a.left, a.top, a.right - a.left, a.bottom - a.top);
    ctx.strokeStyle = '#a9a9a9';
    ctx.lineWidth = 2;
    ctx.beginPath();
    scales.x.ticks.forEach((t, i) => {
      const px = Math.round(scales.x.getPixelForTick(i)) + 0.5;
      ctx.moveTo(px, a.bottom + 1);
      ctx.lineTo(px, a.bottom + (t.label ? 15 : 8));
    });
    scales.y.ticks.forEach((t, i) => {
      const py = Math.round(scales.y.getPixelForTick(i)) + 0.5;
      ctx.moveTo(a.left - 1, py);
      ctx.lineTo(a.left - (t.label ? 15 : 8), py);
    });
    ctx.stroke();
    ctx.restore();
  }
};

function buildPanel(p) {
  // table above the chart
  addText('Measures of Fit for Vs', 'fitTitle', p.titleX, 24);
  const bar = document.createElement('div');
  bar.className = 'bar';
  bar.style.left = p.bar[0] + 'px';
  bar.style.width = (p.bar[1] - p.bar[0]) + 'px';
  document.body.appendChild(bar);
  tableHeader.forEach((h, i) => addText(h, 'hd', p.cols[i], 133));
  p.fit.forEach((row, r) => row.forEach((v, i) => addText(v, 'cell', p.cols[i], 185 + r * 52)));

  const c = p.canvas;
  const canvas = document.createElement('canvas');
  canvas.width = c.w;
  canvas.height = c.h;
  canvas.style.left = c.left + 'px';
  canvas.style.top = c.top + 'px';
  canvas.style.width = c.w + 'px';
  canvas.style.height = c.h + 'px';
  document.body.appendChild(canvas);

  const isMajor = v => p.majors.some(m => Math.abs(m - v) < 1e-6);
  const tickFont = { family: FONT, size: 27 };
  const titleFont = { family: FONT, size: 38 };

  const chart = new Chart(canvas, {
    type: 'scatter',
    data: {
      datasets: [
        {
          label: 'diagonal',
          data: [{ x: p.min, y: p.min }, { x: p.max, y: p.max }],
          showLine: true, borderColor: DIAG_COLOR, borderWidth: 2.5,
          pointRadius: 0, order: 0
        },
        {
          label: seriesNames[1], data: toPoints(p.ann),
          backgroundColor: ANN_COLOR, pointRadius: POINT_RADIUS, pointBorderWidth: 0, order: 1
        },
        {
          label: seriesNames[0], data: toPoints(p.linear),
          backgroundColor: LINEAR_COLOR, pointRadius: POINT_RADIUS, pointBorderWidth: 0, order: 2
        }
      ]
    },
    options: {
      responsive: false,
      animation: false,
      events: [],
      devicePixelRatio: 1,
      layout: { padding: { top: p.padTop, right: p.padRight, left: 0, bottom: 0 } },
      plugins: { legend: { display: false }, tooltip: { enabled: false } },
      scales: {
        x: {
          type: 'linear', min: p.min, max: p.max,
          afterFit: s => { s.height = p.xAxisH; },
          grid: { display: false, drawTicks: false },
          border: { display: false },
          ticks: {
            stepSize: p.step, autoSkip: false, maxRotation: 0, padding: 22,
            color: '#333', font: tickFont,
            callback: v => (isMajor(v) ? String(+v.toFixed(3)) : '')
          },
          title: {
            display: true, text: 'Vs Predicted (Km/s)', color: '#333', font: titleFont,
            padding: { top: 0, bottom: p.xTitlePad }
          }
        },
        y: {
          type: 'linear', min: p.min, max: p.max,
          afterFit: s => { s.width = p.yAxisW; },
          grid: { display: false, drawTicks: false },
          border: { display: false },
          ticks: {
            stepSize: p.step, autoSkip: false, padding: 23,
            color: '#333', font: tickFont,
            callback: v => (isMajor(v) ? String(+v.toFixed(3)) : '')
          },
          title: {
            display: true, text: 'Vs Actual (Km/s)', color: '#333', font: titleFont,
            padding: { top: p.yTitlePad, bottom: 0 }
          }
        }
      }
    },
    plugins: [framePlugin]
  });

  // formation name inside the plot
  addText(p.note, 'note', p.noteX, 416);

  // legend, Linear first as in the figure
  addText('Predictor', 'legTitle', p.legendX, p.legendY[0] - 14);
  const legendSets = [chart.data.datasets[2], chart.data.datasets[1]];
  legendSets.forEach((ds, i) => {
    const cy = p.legendY[i + 1];
    const dot = document.createElement('div');
    dot.className = 'dot';
    dot.style.background = ds.backgroundColor;
    dot.style.left = (p.legendX + 17) + 'px';
    dot.style.top = (cy - 7.5) + 'px';
    document.body.appendChild(dot);
    addText(ds.label, 'legItem', p.legendX + 57, cy - 14);
  });

  // panel tag (a) / (b)
  const tag = document.createElement('div');
  tag.className = 'abs tag';
  tag.innerHTML = '(<b>' + p.tag + '</b>)';
  tag.style.left = (p.tagX - 120) + 'px';
  tag.style.top = '1640px';
  document.body.appendChild(tag);
}

panels.forEach(buildPanel);
</script>
</body>
</html>
